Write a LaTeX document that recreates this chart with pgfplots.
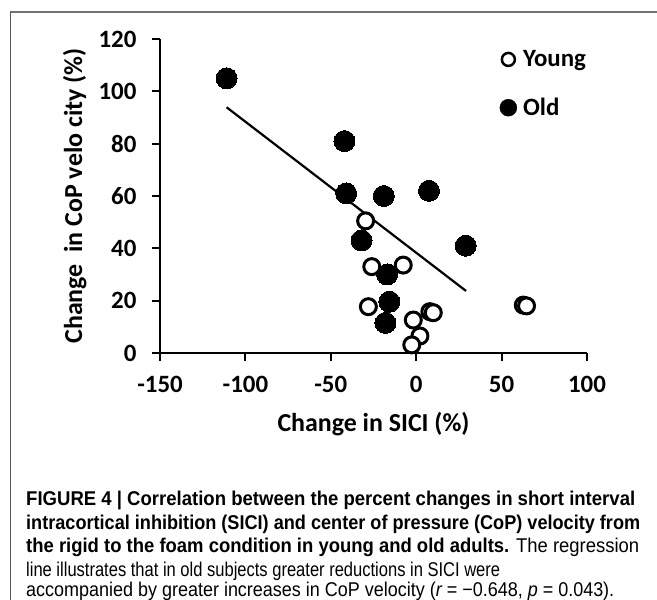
\documentclass[border=0pt]{standalone}
\usepackage{fontspec}
\setmainfont{Carlito}
\newfontfamily\capfont{Liberation Sans}
\usepackage{graphicx}
\usepackage{pgfplots}
\pgfplotsset{compat=1.18}

\pgfplotstableread{
x y
-29.6 50.5
-26 33
-7.6 33.6
-28 17.7
-1.7 12.6
8 15.8
10 15.4
2.2 6.5
-2.6 3.1
62.7 18.3
64.6 18
}\young

\pgfplotstableread{
x y
-111 105
-42 81
-41 61
-19 60
7.5 62
-32 43
29 41
-17 30
-15.7 19.6
-18 11.5
}\old

\newcommand{\axfont}{\bfseries\fontsize{25}{30}\selectfont}
\newcommand{\lblfont}{\bfseries\fontsize{26}{31}\selectfont}
\newcommand{\capsz}{\fontsize{20}{24}\selectfont}

\begin{document}
\begin{tikzpicture}
\useasboundingbox (0,0) rectangle (657bp,600bp);
\fill[white] (0,0) rectangle (657bp,600bp);
\draw[black!55, line width=1.5bp] (10bp,588bp) -- (657bp,588bp);
\draw[black!65, line width=1bp] (10.5bp,588.75bp) -- (10.5bp,0);
\begin{axis}[
  at={(160bp,247bp)}, anchor=south west,
  scale only axis, width=427bp, height=314bp,
  xmin=-150, xmax=100, ymin=0, ymax=120,
  axis lines=left,
  every outer x axis line/.style={-},
  every outer y axis line/.style={-},
  every inner x axis line/.style={-},
  every inner y axis line/.style={-},
  axis line style={-, line width=2.5bp, black},
  clip=false,
  xtick={-150,-100,-50,0,50,100},
  ytick={0,20,40,60,80,100,120},
  xticklabels={-150,-100,-50,0,50,100},
  yticklabels={0,20,40,60,80,100,120},
  tick align=outside, major tick length=8bp,
  tick style={line width=2bp, black},
  ticklabel style={font=\axfont},
  xticklabel style={yshift=-12bp},
  yticklabel style={xshift=-12bp},
  xlabel={Change in SICI (\%)},
  ylabel={Change\ \ in CoP velo city (\%)},
  label style={font=\lblfont},
  xlabel style={at={(axis description cs:0.5,-0.225)}, anchor=center},
  ylabel style={at={(axis description cs:-0.2,0.5)}, anchor=center},
  legend style={draw=none, fill=none, at={(axis description cs:0.795,0.97)}, anchor=north west, font=\axfont, row sep=26bp, column sep=4bp, inner sep=0pt},
  legend cell align=left,
]
\addplot[black, line width=2.2bp, forget plot] coordinates {(-111,93.9) (29.2,23.7)};
\addplot[only marks, mark=*, mark size=8bp, mark options={fill=white, draw=black, line width=3bp},
  legend image code/.code={\draw[black, line width=2.5bp, fill=white] (0bp,0bp) circle (6.5bp);}]
  table[x=x,y=y] {\young};
\addlegendentry{Young}
\addplot[only marks, mark=*, mark size=10.5bp, mark options={fill=black, draw=black, line width=0pt},
  legend image code/.code={\fill[black] (0bp,0bp) circle (8.5bp);}]
  table[x=x,y=y] {\old};
\addlegendentry{Old}
\end{axis}
\node[anchor=base west, inner sep=0pt] at (26bp,94bp) {\resizebox{609bp}{\height}{\capfont\bfseries\capsz FIGURE 4 | Correlation between the percent changes in short interval}};
\node[anchor=base west, inner sep=0pt] at (26bp,70bp) {\resizebox{614bp}{\height}{\capfont\bfseries\capsz intracortical inhibition (SICI) and center of pressure (CoP) velocity from}};
\node[anchor=base west, inner sep=0pt] at (26bp,47bp) {\resizebox{613bp}{\height}{\capfont\capsz{\bfseries the rigid to the foam condition in young and old adults.} The regression}};
\node[anchor=base west, inner sep=0pt] at (26bp,24bp) {\resizebox{474bp}{\height}{\capfont\capsz line illustrates that in old subjects greater reductions in SICI were}};
\node[anchor=base west, inner sep=0pt] at (26bp,3.5bp) {\resizebox{588bp}{\height}{\capfont\capsz accompanied by greater increases in CoP velocity ({\itshape r} = −0.648, {\itshape p} = 0.043).}};
\end{tikzpicture}
\end{document}
